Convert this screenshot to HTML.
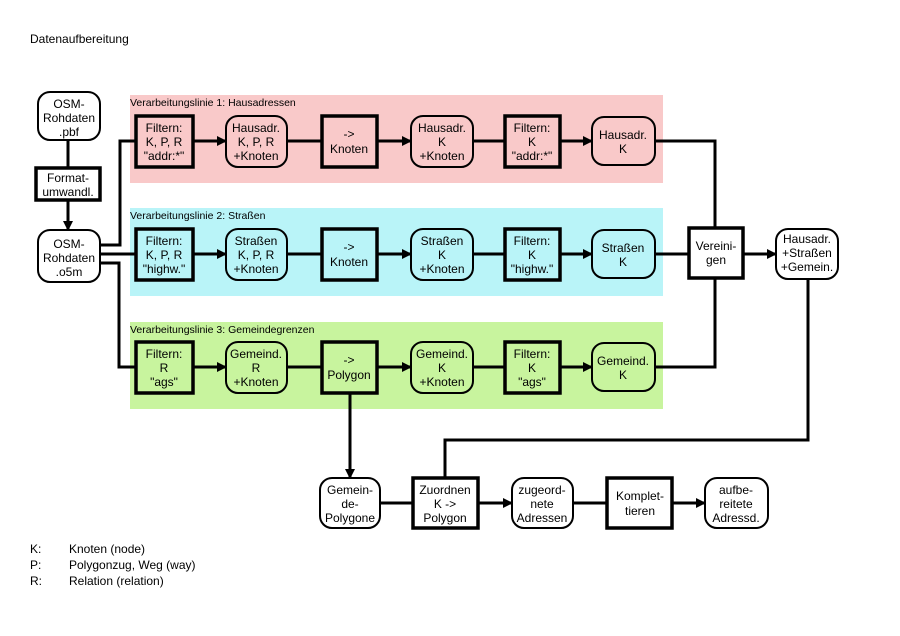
<!DOCTYPE html>
<html><head><meta charset="utf-8"><style>
html,body{margin:0;padding:0;background:#fff;}
svg{display:block;font-family:"Liberation Sans",Arial,sans-serif;}
</style></head><body>
<svg width="900" height="636" viewBox="0 0 900 636" xmlns="http://www.w3.org/2000/svg">
<defs>
<marker id="a" markerWidth="10" markerHeight="10" refX="9" refY="5" orient="auto" markerUnits="userSpaceOnUse">
<path d="M0,0 L10,5 L0,10 z" fill="#000"/></marker>
</defs>
<text x="30" y="43" font-size="12">Datenaufbereitung</text>

<rect x="130" y="95" width="533" height="88" fill="#f9c9c9"/>
<rect x="130" y="208" width="533" height="88" fill="#b9f4f8"/>
<rect x="130" y="322" width="533" height="87" fill="#c8f49e"/>
<g font-size="10.5">
<text x="130" y="106">Verarbeitungslinie 1: Hausadressen</text>
<text x="130" y="219">Verarbeitungslinie 2: Straßen</text>
<text x="130" y="333">Verarbeitungslinie 3: Gemeindegrenzen</text>
</g>

<g stroke="#000" stroke-width="3" fill="none">
<line x1="68" y1="140" x2="68" y2="168"/>
<line x1="68" y1="200" x2="68" y2="230" marker-end="url(#a)"/>
<polyline points="100,245 120,245 120,141 136,141"/>
<line x1="100" y1="254" x2="136" y2="254"/>
<polyline points="100,263 119,263 119,367 136,367"/>
<line x1="193" y1="141" x2="226" y2="141" marker-end="url(#a)"/>
<line x1="287" y1="141" x2="322" y2="141"/>
<line x1="377" y1="141" x2="411" y2="141" marker-end="url(#a)"/>
<line x1="473" y1="141" x2="505" y2="141"/>
<line x1="560" y1="141" x2="592" y2="141" marker-end="url(#a)"/>
<line x1="193" y1="254" x2="226" y2="254" marker-end="url(#a)"/>
<line x1="287" y1="254" x2="322" y2="254"/>
<line x1="377" y1="254" x2="411" y2="254" marker-end="url(#a)"/>
<line x1="473" y1="254" x2="505" y2="254"/>
<line x1="560" y1="254" x2="592" y2="254" marker-end="url(#a)"/>
<line x1="193" y1="367" x2="226" y2="367" marker-end="url(#a)"/>
<line x1="287" y1="367" x2="322" y2="367"/>
<line x1="377" y1="367" x2="411" y2="367" marker-end="url(#a)"/>
<line x1="473" y1="367" x2="505" y2="367"/>
<line x1="560" y1="367" x2="592" y2="367" marker-end="url(#a)"/>
<polyline points="655,141 715,141 715,228"/>
<line x1="655" y1="254" x2="689" y2="254"/>
<polyline points="655,367 715,367 715,278"/>
<line x1="743" y1="254" x2="776" y2="254" marker-end="url(#a)"/>
<polyline points="808,279 808,440 445,440 445,478"/>
<line x1="350" y1="393" x2="350" y2="478" marker-end="url(#a)"/>
<line x1="380" y1="503" x2="413" y2="503"/>
<line x1="478" y1="503" x2="512" y2="503" marker-end="url(#a)"/>
<line x1="573" y1="503" x2="607" y2="503"/>
<line x1="672" y1="503" x2="705" y2="503" marker-end="url(#a)"/>
</g>

<g stroke="#000" font-size="12" text-anchor="middle">
<rect x="38" y="92" width="62" height="48" rx="12" fill="#fff" stroke-width="2"/>
<rect x="36" y="168" width="64" height="32" fill="#fff" stroke-width="3.5"/>
<rect x="38" y="230" width="62" height="52" rx="12" fill="#fff" stroke-width="2"/>
<rect x="136" y="116" width="57" height="51" fill="#f9c9c9" stroke-width="3.5"/>
<rect x="226" y="116" width="61" height="51" rx="12" fill="#f9c9c9" stroke-width="2"/>
<rect x="322" y="116" width="55" height="51" fill="#f9c9c9" stroke-width="3.5"/>
<rect x="411" y="116" width="62" height="51" rx="12" fill="#f9c9c9" stroke-width="2"/>
<rect x="505" y="116" width="55" height="51" fill="#f9c9c9" stroke-width="3.5"/>
<rect x="592" y="117" width="63" height="48" rx="12" fill="#f9c9c9" stroke-width="2"/>
<rect x="136" y="229" width="57" height="51" fill="#b9f4f8" stroke-width="3.5"/>
<rect x="226" y="229" width="61" height="51" rx="12" fill="#b9f4f8" stroke-width="2"/>
<rect x="322" y="229" width="55" height="51" fill="#b9f4f8" stroke-width="3.5"/>
<rect x="411" y="229" width="62" height="51" rx="12" fill="#b9f4f8" stroke-width="2"/>
<rect x="505" y="229" width="55" height="51" fill="#b9f4f8" stroke-width="3.5"/>
<rect x="592" y="230" width="63" height="48" rx="12" fill="#b9f4f8" stroke-width="2"/>
<rect x="136" y="342" width="57" height="51" fill="#c8f49e" stroke-width="3.5"/>
<rect x="226" y="342" width="61" height="51" rx="12" fill="#c8f49e" stroke-width="2"/>
<rect x="322" y="342" width="55" height="51" fill="#c8f49e" stroke-width="3.5"/>
<rect x="411" y="342" width="62" height="51" rx="12" fill="#c8f49e" stroke-width="2"/>
<rect x="505" y="342" width="55" height="51" fill="#c8f49e" stroke-width="3.5"/>
<rect x="592" y="343" width="63" height="48" rx="12" fill="#c8f49e" stroke-width="2"/>
<rect x="689" y="228" width="54" height="50" fill="#fff" stroke-width="3.5"/>
<rect x="776" y="229" width="62" height="50" rx="12" fill="#fff" stroke-width="2"/>
<rect x="320" y="478" width="60" height="50" rx="12" fill="#fff" stroke-width="2"/>
<rect x="413" y="478" width="65" height="50" fill="#fff" stroke-width="3.5"/>
<rect x="512" y="478" width="61" height="50" rx="12" fill="#fff" stroke-width="2"/>
<rect x="607" y="478" width="65" height="50" fill="#fff" stroke-width="3.5"/>
<rect x="705" y="478" width="63" height="50" rx="12" fill="#fff" stroke-width="2"/>
</g>

<g font-size="12" text-anchor="middle" fill="#000">
<text x="69" y="108">OSM-</text><text x="69" y="122">Rohdaten</text><text x="69" y="136">.pbf</text>
<text x="68" y="182">Format-</text><text x="68" y="196">umwandl.</text>
<text x="69" y="248">OSM-</text><text x="69" y="262">Rohdaten</text><text x="69" y="276">.o5m</text>

<text x="164" y="132">Filtern:</text><text x="164" y="146">K, P, R</text><text x="164" y="160">"addr:*"</text>
<text x="256" y="132">Hausadr.</text><text x="256" y="146">K, P, R</text><text x="256" y="160">+Knoten</text>
<text x="349" y="138">-&gt;</text><text x="349" y="153">Knoten</text>
<text x="442" y="132">Hausadr.</text><text x="442" y="146">K</text><text x="442" y="160">+Knoten</text>
<text x="532" y="132">Filtern:</text><text x="532" y="146">K</text><text x="532" y="160">"addr:*"</text>
<text x="623" y="139">Hausadr.</text><text x="623" y="153">K</text>

<text x="164" y="245">Filtern:</text><text x="164" y="259">K, P, R</text><text x="164" y="273">"highw."</text>
<text x="256" y="245">Straßen</text><text x="256" y="259">K, P, R</text><text x="256" y="273">+Knoten</text>
<text x="349" y="251">-&gt;</text><text x="349" y="266">Knoten</text>
<text x="442" y="245">Straßen</text><text x="442" y="259">K</text><text x="442" y="273">+Knoten</text>
<text x="532" y="245">Filtern:</text><text x="532" y="259">K</text><text x="532" y="273">"highw."</text>
<text x="623" y="252">Straßen</text><text x="623" y="266">K</text>

<text x="164" y="358">Filtern:</text><text x="164" y="372">R</text><text x="164" y="386">"ags"</text>
<text x="256" y="358">Gemeind.</text><text x="256" y="372">R</text><text x="256" y="386">+Knoten</text>
<text x="349" y="364">-&gt;</text><text x="349" y="379">Polygon</text>
<text x="442" y="358">Gemeind.</text><text x="442" y="372">K</text><text x="442" y="386">+Knoten</text>
<text x="532" y="358">Filtern:</text><text x="532" y="372">K</text><text x="532" y="386">"ags"</text>
<text x="623" y="365">Gemeind.</text><text x="623" y="379">K</text>

<text x="716" y="250">Vereini-</text><text x="716" y="264">gen</text>
<text x="807" y="243">Hausadr.</text><text x="807" y="257">+Straßen</text><text x="807" y="271">+Gemein.</text>

<text x="350" y="494">Gemein-</text><text x="350" y="508">de-</text><text x="350" y="522">Polygone</text>
<text x="445" y="494">Zuordnen</text><text x="445" y="508">K -&gt;</text><text x="445" y="522">Polygon</text>
<text x="542" y="494">zugeord-</text><text x="542" y="508">nete</text><text x="542" y="522">Adressen</text>
<text x="640" y="500">Komplet-</text><text x="640" y="515">tieren</text>
<text x="736" y="494">aufbe-</text><text x="736" y="508">reitete</text><text x="736" y="522">Adressd.</text>
</g>

<g font-size="12">
<text x="30" y="553">K:</text><text x="69" y="553">Knoten (node)</text>
<text x="30" y="569">P:</text><text x="69" y="569">Polygonzug, Weg (way)</text>
<text x="30" y="585">R:</text><text x="69" y="585">Relation (relation)</text>
</g>
</svg>
</body></html>
